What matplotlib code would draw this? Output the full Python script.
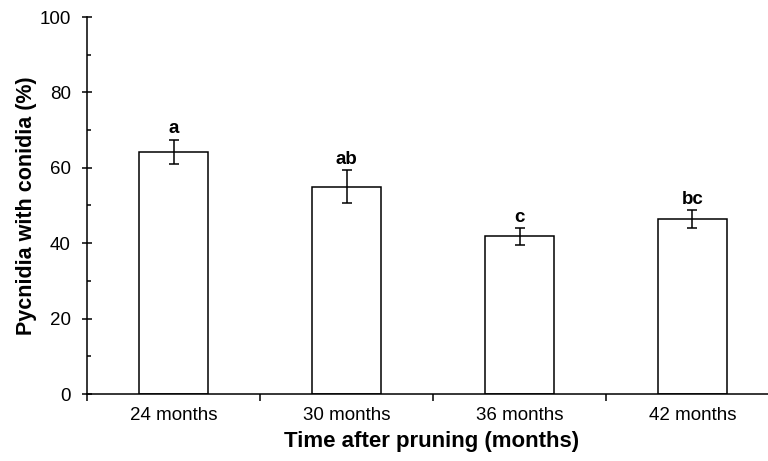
import matplotlib
matplotlib.use("Agg")
import matplotlib.pyplot as plt
from matplotlib.ticker import MultipleLocator, FixedLocator

plt.rcParams['font.family'] = ['Liberation Sans', 'DejaVu Sans']

# data
categories = ['24 months', '30 months', '36 months', '42 months']
means = [64.2, 55.0, 41.8, 46.3]
errors = [3.3, 4.4, 2.3, 2.4]
letters = ['a', 'ab', 'c', 'bc']

fig = plt.figure(figsize=(7.68, 4.61), dpi=100)
# axes runs past the right edge like the original
ax = fig.add_axes([87 / 768, 67 / 461, 692 / 768, 377 / 461])

x = list(range(len(categories)))
ax.bar(x, means, width=0.40, color='white', edgecolor='black', linewidth=1.1, zorder=2)
ax.errorbar(x, means, yerr=errors, fmt='none', ecolor='black', elinewidth=1.1,
            capsize=3.3, capthick=1.1, zorder=3)

for xi, m, e, lab in zip(x, means, errors, letters):
    ax.text(xi, m + e + 1.6, lab, ha='center', va='baseline',
            fontsize=13.5, fontweight='bold')

ax.set_xlim(-0.5, 3.5)
ax.set_ylim(0, 100)

ax.spines['top'].set_visible(False)
ax.spines['right'].set_visible(False)
ax.spines['left'].set_linewidth(1.1)
ax.spines['bottom'].set_linewidth(1.1)
ax.spines['bottom'].set_clip_on(False)

ax.yaxis.set_major_locator(MultipleLocator(20))
ax.yaxis.set_minor_locator(MultipleLocator(10))
ax.tick_params(axis='y', which='major', direction='inout', length=7.5, width=1.1,
               labelsize=13.5, pad=8)
ax.tick_params(axis='y', which='minor', direction='in', length=3, width=1.1)

ax.set_xticks(x)
ax.set_xticklabels(categories)
ax.xaxis.set_minor_locator(FixedLocator([-0.5, 0.5, 1.5, 2.5, 3.5]))
ax.tick_params(axis='x', which='major', length=0, labelsize=13.5, pad=9)
ax.tick_params(axis='x', which='minor', direction='out', length=5, width=1.1)

ax.set_ylabel('Pycnidia with conidia (%)', fontsize=15.5, fontweight='bold', labelpad=2)
ax.set_xlabel('Time after pruning (months)', fontsize=16, fontweight='bold')
ax.xaxis.set_label_coords(345 / 692, -37 / 377)

fig.savefig('out.png', dpi=100)
